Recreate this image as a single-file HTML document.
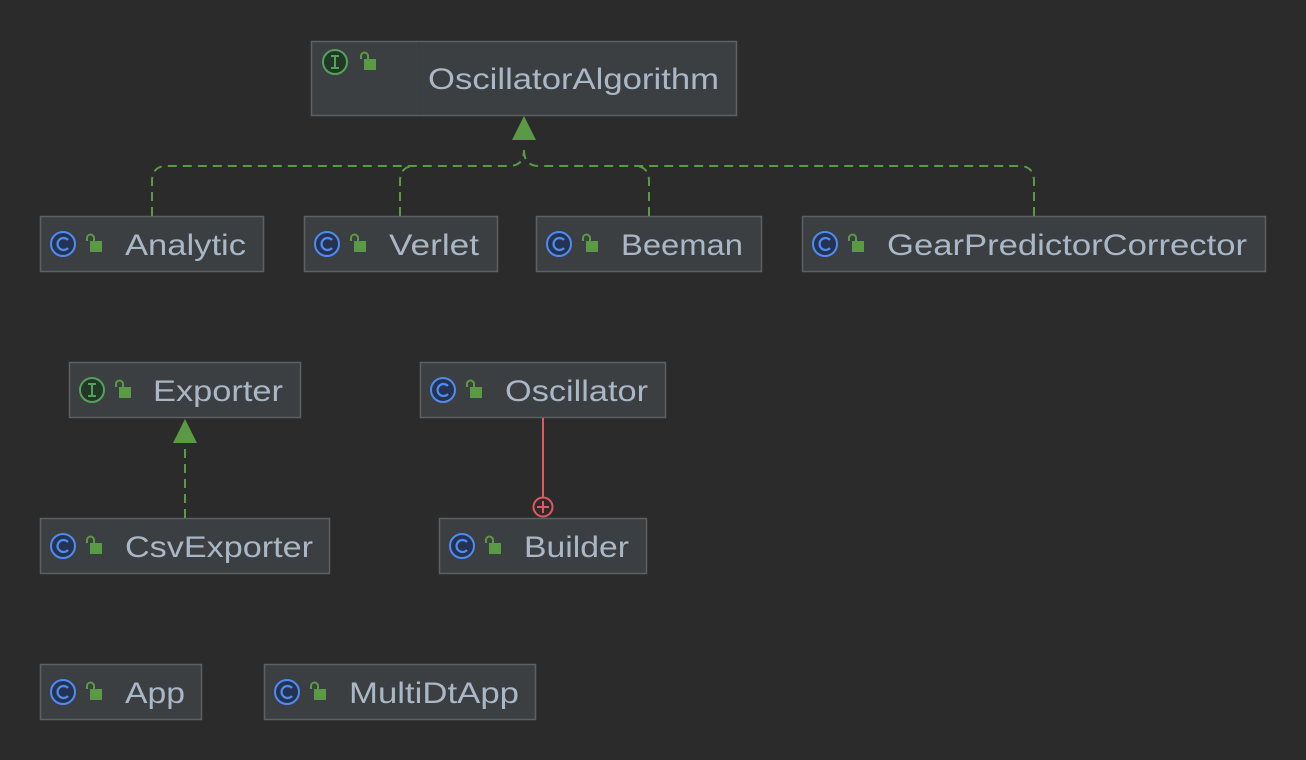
<!DOCTYPE html>
<html><head><style>
html,body{margin:0;padding:0;background:#2b2b2b;}
svg{display:block}
text{font-family:"Liberation Sans",sans-serif;font-size:30px;fill:#a9b7c6;}
</style></head><body>
<svg width="1306" height="760" viewBox="0 0 1306 760" xmlns="http://www.w3.org/2000/svg">
<defs>
<g id="cls">
<circle cx="0" cy="0" r="12" fill="#253252" stroke="#4e8cf0" stroke-width="2"/>
<path d="M5,-4 A6,6 0 1 0 5,4" fill="none" stroke="#4e8cf0" stroke-width="2.2"/>
</g>
<g id="ifc">
<circle cx="0" cy="0" r="12" fill="#213825" stroke="#55a05e" stroke-width="2"/>
<path d="M-4,-6 H4 M0,-6 V6 M-4,6 H4" stroke="#55a05e" stroke-width="2" fill="none"/>
</g>
<g id="lock">
<rect x="4" y="-3" width="12" height="11" fill="#5a9a45"/>
<path d="M1,-3 V-6 A3.5,3.5 0 0 1 8,-6 V-3" fill="none" stroke="#5a9a45" stroke-width="2"/>
</g>
</defs>
<g fill="#3c3f41" stroke="#5d6062" stroke-width="1.5">
<rect x="311.5" y="41.5" width="425" height="74"/>
<rect x="40.5" y="216.5" width="223" height="55"/>
<rect x="304.5" y="216.5" width="193" height="55"/>
<rect x="536.5" y="216.5" width="225" height="55"/>
<rect x="802.5" y="216.5" width="463" height="55"/>
<rect x="69.5" y="362.5" width="231" height="55"/>
<rect x="420.5" y="362.5" width="245" height="55"/>
<rect x="40.5" y="518.5" width="289" height="55"/>
<rect x="439.5" y="518.5" width="207" height="55"/>
<rect x="40.5" y="664.5" width="161" height="55"/>
<rect x="264.5" y="664.5" width="271" height="55"/>
</g>
<line x1="419" y1="42" x2="419" y2="115" stroke="#3a3d3f" stroke-width="1"/>
<g fill="none" stroke="#5a9a45" stroke-width="2" stroke-dasharray="9,6">
<path d="M152,216 V181 Q152,166 167,166 H509 Q524,166 524,150"/>
<path d="M400,216 V181 Q400,166 415,166"/>
<path d="M649,216 V181 Q649,166 634,166"/>
<path d="M1034,216 V181 Q1034,166 1019,166 H539 Q524,166 524,150"/>
<path d="M185,518 V443"/>
</g>
<polygon points="524,116 512,140 536,140" fill="#5a9a45"/>
<polygon points="185,419 173,443 197,443" fill="#5a9a45"/>
<line x1="543" y1="418" x2="543" y2="497" stroke="#e0595e" stroke-width="2"/>
<circle cx="543" cy="507" r="9.5" fill="none" stroke="#e0595e" stroke-width="2"/>
<path d="M537,507 H549 M543,501 V513" stroke="#e0595e" stroke-width="2"/>
<use href="#ifc" x="335" y="62"/><use href="#lock" x="360" y="62"/>
<use href="#cls" x="63" y="244"/><use href="#lock" x="86" y="244"/>
<use href="#cls" x="327" y="244"/><use href="#lock" x="350" y="244"/>
<use href="#cls" x="559" y="244"/><use href="#lock" x="582" y="244"/>
<use href="#cls" x="825" y="244"/><use href="#lock" x="848" y="244"/>
<use href="#ifc" x="92" y="390"/><use href="#lock" x="115" y="390"/>
<use href="#cls" x="443" y="390"/><use href="#lock" x="466" y="390"/>
<use href="#cls" x="63" y="546"/><use href="#lock" x="86" y="546"/>
<use href="#cls" x="462" y="546"/><use href="#lock" x="485" y="546"/>
<use href="#cls" x="63" y="692"/><use href="#lock" x="86" y="692"/>
<use href="#cls" x="287" y="692"/><use href="#lock" x="310" y="692"/>
<text x="428" y="89" textLength="291" lengthAdjust="spacingAndGlyphs">OscillatorAlgorithm</text>
<text x="125" y="255" textLength="121" lengthAdjust="spacingAndGlyphs">Analytic</text>
<text x="389" y="255" textLength="90" lengthAdjust="spacingAndGlyphs">Verlet</text>
<text x="621" y="255" textLength="122" lengthAdjust="spacingAndGlyphs">Beeman</text>
<text x="887" y="255" textLength="360" lengthAdjust="spacingAndGlyphs">GearPredictorCorrector</text>
<text x="153" y="401" textLength="130" lengthAdjust="spacingAndGlyphs">Exporter</text>
<text x="505" y="401" textLength="143" lengthAdjust="spacingAndGlyphs">Oscillator</text>
<text x="125" y="557" textLength="188" lengthAdjust="spacingAndGlyphs">CsvExporter</text>
<text x="524" y="557" textLength="105" lengthAdjust="spacingAndGlyphs">Builder</text>
<text x="125" y="703" textLength="60" lengthAdjust="spacingAndGlyphs">App</text>
<text x="349" y="703" textLength="170" lengthAdjust="spacingAndGlyphs">MultiDtApp</text>
</svg>
</body></html>
